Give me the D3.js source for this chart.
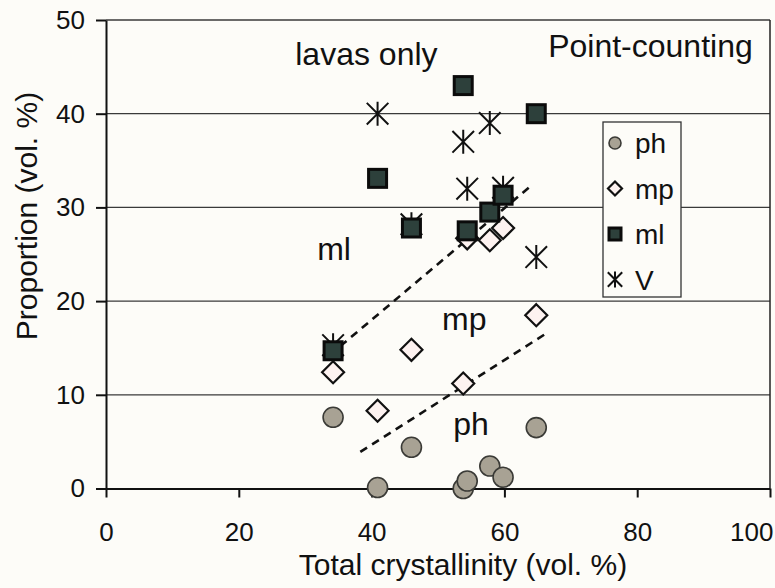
<!DOCTYPE html>
<html>
<head>
<meta charset="utf-8">
<script src="https://cdn.jsdelivr.net/npm/d3@7"></script>
<style>
  body { margin: 0; background: #fdfcf8; }
  text { font-family: "Liberation Sans", Arial, sans-serif; fill: #111; }
</style>
</head>
<body>
<div id="chart"></div>
<script>
// chart data: one x (total crystallinity) per sample, four proportions each
var crystallinity = [34.2, 40.9, 46.0, 53.8, 54.4, 57.8, 59.8, 64.8];
var phValues = [7.6, 0.1, 4.4, 0.0, 0.8, 2.4, 1.2, 6.5];
var mpValues = [12.4, 8.3, 14.8, 11.2, 26.7, 26.5, 27.8, 18.5];
var mlValues = [14.7, 33.1, 27.8, 43.0, 27.5, 29.5, 31.3, 40.0];
var vValues = [15.3, 40.0, 28.2, 37.0, 32.0, 39.0, 32.1, 24.7];

// dashed boundary lines (x, y end points)
var mlBoundary = [[35.3, 15.2], [64.0, 32.3]];
var phBoundary = [[38.3, 3.9], [66.4, 16.6]];

var xTicks = [0, 20, 40, 60, 80, 100];
var yTicks = [0, 10, 20, 30, 40, 50];
var legendNames = ["ph", "mp", "ml", "V"];

// svg size and margins
var svgWidth = 775;
var svgHeight = 588;
var margin = { top: 20, right: 5, bottom: 99.5, left: 106 };
var chartWidth = svgWidth - margin.left - margin.right;
var chartHeight = svgHeight - margin.top - margin.bottom;

var svg = d3.select("#chart")
  .append("svg")
  .attr("width", svgWidth)
  .attr("height", svgHeight);

var chartGroup = svg.append("g")
  .attr("transform", "translate(" + margin.left + ", " + margin.top + ")");

var xScale = d3.scaleLinear().domain([0, 100]).range([0, chartWidth]);
var yScale = d3.scaleLinear().domain([0, 50]).range([chartHeight, 0]);

// horizontal grid lines
chartGroup.selectAll(".grid")
  .data(yTicks.slice(1))
  .enter()
  .append("line")
  .attr("x1", 0)
  .attr("x2", chartWidth)
  .attr("y1", function (d) { return yScale(d); })
  .attr("y2", function (d) { return yScale(d); })
  .attr("stroke", "#3a3a3a")
  .attr("stroke-width", 1.3);

// right border
chartGroup.append("line")
  .attr("x1", xScale(100)).attr("x2", xScale(100))
  .attr("y1", yScale(0)).attr("y2", yScale(50))
  .attr("stroke", "#222")
  .attr("stroke-width", 1.5);

// axes
var bottomAxis = d3.axisBottom(xScale).tickValues(xTicks).tickSizeInner(9).tickSizeOuter(0).tickPadding(25);
var leftAxis = d3.axisLeft(yScale).tickValues(yTicks).tickSizeInner(10).tickSizeOuter(0).tickPadding(11);

var xAxisG = chartGroup.append("g")
  .attr("transform", "translate(0, " + chartHeight + ")")
  .call(bottomAxis);
var yAxisG = chartGroup.append("g").call(leftAxis);

[xAxisG, yAxisG].forEach(function (g) {
  g.select(".domain").attr("stroke", "#111").attr("stroke-width", 2);
  g.selectAll(".tick line").attr("stroke", "#111").attr("stroke-width", 2);
  g.selectAll(".tick text")
    .style("font-family", "'Liberation Sans', Arial, sans-serif")
    .style("font-size", "26px")
    .attr("fill", "#111");
});
// keep the last x label inside the picture
xAxisG.selectAll(".tick text")
  .filter(function (d) { return d === 100; })
  .attr("text-anchor", "end")
  .attr("x", 3);

// dashed boundary lines
var line = d3.line()
  .x(function (d) { return xScale(d[0]); })
  .y(function (d) { return yScale(d[1]); });

[mlBoundary, phBoundary].forEach(function (pts) {
  chartGroup.append("path")
    .attr("d", line(pts))
    .attr("fill", "none")
    .attr("stroke", "#111")
    .attr("stroke-width", 2.6)
    .attr("stroke-dasharray", "8,6");
});

// marker shapes
function drawCircle(g, r) {
  g.append("circle").attr("r", r)
    .attr("fill", "#a8a294").attr("stroke", "#3a3a36").attr("stroke-width", 1.6);
}
function drawDiamond(g, h) {
  g.append("path")
    .attr("d", "M0," + (-h) + "L" + h + ",0L0," + h + "L" + (-h) + ",0Z")
    .attr("fill", "#fdf2f0").attr("stroke", "#111").attr("stroke-width", 2.2);
}
function drawSquare(g, s) {
  g.append("rect").attr("x", -s / 2).attr("y", -s / 2).attr("width", s).attr("height", s)
    .attr("fill", "#2d403b").attr("stroke", "#0b0b0b").attr("stroke-width", 3);
}
function drawStar(g, h) {
  var d = h * 0.9;
  g.append("path")
    .attr("d", "M0," + (-h) + "V" + h +
      "M" + (-d) + "," + (-d) + "L" + d + "," + d +
      "M" + (-d) + "," + d + "L" + d + "," + (-d))
    .attr("fill", "none").attr("stroke", "#111").attr("stroke-width", 2);
}

function drawSeries(values, name, drawFn, size) {
  chartGroup.selectAll("." + name)
    .data(values)
    .enter()
    .append("g")
    .attr("class", name)
    .attr("transform", function (d, i) {
      return "translate(" + xScale(crystallinity[i]) + "," + yScale(d) + ")";
    })
    .each(function () { drawFn(d3.select(this), size); });
}

drawSeries(phValues, "ph", drawCircle, 10);
drawSeries(mpValues, "mp", drawDiamond, 11);
drawSeries(vValues, "v", drawStar, 12);
drawSeries(mlValues, "ml", drawSquare, 18);

// annotations
function note(txt, x, y, anchor) {
  chartGroup.append("text")
    .attr("x", xScale(x)).attr("y", yScale(y))
    .attr("text-anchor", anchor || "start")
    .style("font-size", "32px")
    .text(txt);
}
note("lavas only", 28.5, 45.2);
note("Point-counting", 97.4, 46.1, "end");
note("ml", 31.8, 24.4);
note("mp", 50.6, 16.9);
note("ph", 52.3, 5.7);

// legend
var legend = svg.append("g").attr("transform", "translate(603, 122)");
legend.append("rect")
  .attr("width", 78).attr("height", 175)
  .attr("fill", "#fdfcf8").attr("stroke", "#333").attr("stroke-width", 1.3);
var legendFns = [drawCircle, drawDiamond, drawSquare, drawStar];
var legendSizes = [6, 7, 12, 8];
legendNames.forEach(function (name, i) {
  var row = legend.append("g").attr("transform", "translate(12, " + (21 + i * 45.5) + ")");
  legendFns[i](row, legendSizes[i]);
  row.append("text")
    .attr("x", 20).attr("y", 10)
    .style("font-size", "28px")
    .text(name);
});

// axis titles
svg.append("text")
  .attr("x", 463).attr("y", 575)
  .attr("text-anchor", "middle")
  .style("font-size", "30px")
  .text("Total crystallinity (vol. %)");

svg.append("text")
  .attr("transform", "translate(37, 216) rotate(-90)")
  .attr("text-anchor", "middle")
  .style("font-size", "30px")
  .text("Proportion (vol. %)");
</script>
</body>
</html>
